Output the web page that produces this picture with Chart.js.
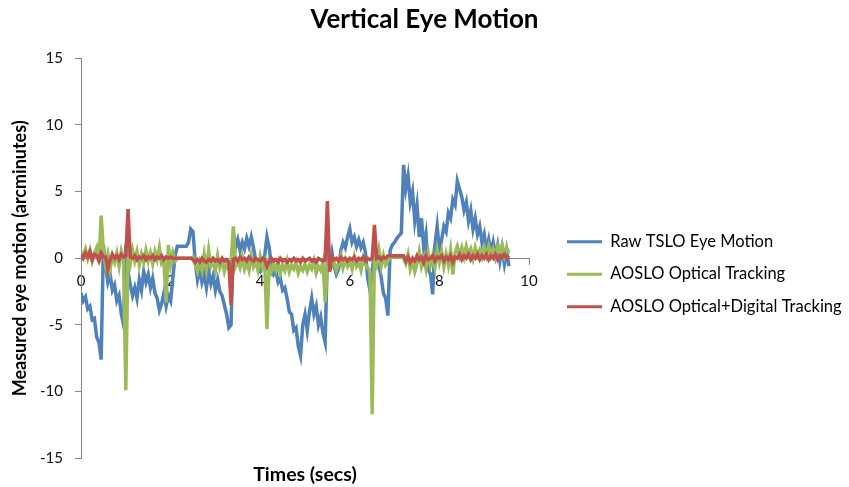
<!DOCTYPE html>
<html>
<head>
<meta charset="utf-8">
<title>Vertical Eye Motion</title>
<script src="https://cdn.jsdelivr.net/npm/chart.js@4.4.1/dist/chart.umd.min.js"></script>
<style>
  html, body { margin: 0; padding: 0; background: #fff; }
  #wrap { width: 849px; height: 487px; }
</style>
</head>
<body>
<div id="wrap"><canvas id="eyeChart"></canvas></div>
<script>
// sample times (secs)
const times = [
  0, 0.05, 0.1, 0.15, 0.2, 0.25, 0.3, 0.35, 0.4, 0.45, 0.5, 0.55, 0.6, 0.65, 0.7, 0.75, 0.8, 0.85, 0.9, 0.95,
  1, 1.05, 1.1, 1.15, 1.2, 1.25, 1.3, 1.35, 1.4, 1.45, 1.5, 1.55, 1.6, 1.65, 1.7, 1.75, 1.8, 1.85, 1.9, 1.95,
  2, 2.05, 2.1, 2.15, 2.2, 2.25, 2.3, 2.35, 2.4, 2.45, 2.5, 2.55, 2.6, 2.65, 2.7, 2.75, 2.8, 2.85, 2.9, 2.95,
  3, 3.05, 3.1, 3.15, 3.2, 3.25, 3.3, 3.35, 3.4, 3.45, 3.5, 3.55, 3.6, 3.65, 3.7, 3.75, 3.8, 3.85, 3.9, 3.95,
  4, 4.05, 4.1, 4.15, 4.2, 4.25, 4.3, 4.35, 4.4, 4.45, 4.5, 4.55, 4.6, 4.65, 4.7, 4.75, 4.8, 4.85, 4.9, 4.95,
  5, 5.05, 5.1, 5.15, 5.2, 5.25, 5.3, 5.35, 5.4, 5.45, 5.5, 5.55, 5.6, 5.65, 5.7, 5.75, 5.8, 5.85, 5.9, 5.95,
  6, 6.05, 6.1, 6.15, 6.2, 6.25, 6.3, 6.35, 6.4, 6.45, 6.5, 6.55, 6.6, 6.65, 6.7, 6.75, 6.8, 6.85, 6.9, 6.95,
  7, 7.05, 7.1, 7.15, 7.2, 7.25, 7.3, 7.35, 7.4, 7.45, 7.5, 7.55, 7.6, 7.65, 7.7, 7.75, 7.8, 7.85, 7.9, 7.95,
  8, 8.05, 8.1, 8.15, 8.2, 8.25, 8.3, 8.35, 8.4, 8.45, 8.5, 8.55, 8.6, 8.65, 8.7, 8.75, 8.8, 8.85, 8.9, 8.95,
  9, 9.05, 9.1, 9.15, 9.2, 9.25, 9.3, 9.35, 9.4, 9.45, 9.5, 9.55
];

// arcminutes
const rawTslo = [
  -2.6, -3.2, -2.9, -3.8, -3.6, -4.6, -4.5, -5.9, -6.3, -7.6, 1.0, -0.6, -1.8, -1.2, -2.4, -2.0, -3.2, -2.8, -4.2, -5.0,
  1.0, -1.0, -2.0, -2.8, -2.2, -3.0, -1.6, -2.4, -1.0, -1.8, -1.2, -2.2, -1.5, -2.6, -3.0, -3.9, -3.4, -2.6, -3.6, -2.8,
  -3.2, -1.5, 0.2, 0.9, 0.9, 0.9, 0.9, 0.9, 1.2, 2.2, 2.0, -0.3, -1.6, -0.8, -1.8, -1.2, -2.2, -1.0, -1.9, -1.3,
  -2.4, -1.6, -2.5, -2.8, -3.5, -4.2, -5.2, -5.0, 2.0, 0.8, 1.4, 0.6, 1.2, 0.7, 1.5, 0.9, 1.6, 0.8, -0.2, -0.8,
  -1.0, -0.6, 0.2, 1.6, 0.8, -0.6, -1.2, -0.9, -1.8, -1.5, -2.4, -2.2, -3.0, -4.0, -4.2, -5.4, -5.2, -6.6, -7.3, -5.0,
  -4.2, -5.4, -4.0, -3.0, -4.2, -3.6, -5.0, -4.4, -5.6, -6.3, 0.3, -0.3, 0.5, -0.6, -1.2, -0.8, 0.6, 1.2, 0.8, 1.6,
  2.2, 1.2, 1.6, 0.9, 1.4, 0.8, 1.2, 0.4, -1.5, -2.4, -1.0, 0.6, 0.2, -0.6, -1.4, -2.6, -3.0, -4.3, 0.6, 1.0,
  1.2, 1.5, 1.7, 1.9, 7.0, 5.2, 6.2, 4.2, 5.0, 2.8, 4.0, 1.6, 3.0, 0.8, 1.8, -0.8, -1.2, -2.7, 1.0, 2.4,
  0.6, 1.4, 2.4, 2.0, 3.4, 3.0, 4.4, 4.0, 5.8, 5.2, 4.6, 3.6, 4.2, 2.8, 3.6, 2.2, 3.0, 1.8, 2.4, 1.2,
  1.8, 0.6, 1.4, 0.4, 1.2, 0.2, 1.0, -0.2, 0.8, -0.4, 0.6, -0.6
];

const opticalOnly = [
  0.5, 0.2, 0.7, 0.0, 0.6, -0.2, 0.4, 0.8, -0.3, 3.2, 0.6, -0.5, 0.3, -0.8, 0.2, -0.3, 0.4, -0.6, 0.5, -0.2,
  -9.9, 0.3, -0.4, 0.6, -0.2, 0.5, -0.5, 0.3, -0.3, 0.6, -0.2, 0.4, -0.4, 0.5, -0.1, 0.8, -0.4, -0.2, -3.3, 1.0,
  -0.5, 0.4, -0.2, 0.0, 0.0, 0.0, 0.0, 0.0, 0.0, 0.0, 0.1, -0.5, -1.0, -0.3, -0.9, 0.3, -0.8, 0.6, -0.6, -0.2,
  -0.9, 0.2, -0.7, -0.2, -1.0, -0.4, -0.8, -0.3, 2.4, -0.6, -0.2, -0.7, 0.1, -0.8, -0.3, -0.9, 0.2, -0.6, -0.2, -0.9,
  0.1, -0.7, -0.3, -5.3, -0.5, -1.0, -0.4, -0.9, -0.3, -1.1, -0.5, -0.9, -0.2, -1.0, -0.5, -0.8, -0.3, -1.1, -0.6, -0.9,
  -0.4, -1.0, -0.5, -0.8, -0.2, -1.1, -0.6, -0.9, -0.3, -3.3, -0.5, 0.2, -0.6, -0.3, -0.9, -0.4, 0.2, -0.7, -0.1, -0.6,
  -0.2, -0.8, 0.1, -0.6, -0.3, -0.9, 0.0, -0.5, -0.7, -1.0, -11.7, 0.3, -0.4, 0.6, -0.6, 0.2, -0.5, -0.2, 0.1, 0.1,
  0.1, 0.1, 0.1, 0.1, 0.0, -0.4, 0.3, -0.8, -0.2, -1.0, -0.4, 0.5, -0.6, 0.0, -0.8, 0.4, -0.5, 0.2, -0.7, 0.6,
  -0.3, 0.5, -0.6, 0.3, -0.5, 0.6, -1.2, 0.4, 0.9, 0.2, 0.8, 0.1, 0.9, 0.3, 0.7, 0.0, 0.8, 0.2, 0.6, 0.1,
  0.8, 0.2, 0.9, 0.3, 0.7, 0.1, 0.9, 0.4, 1.0, 0.2, 0.8, 0.4
];

const opticalDigital = [
  0.3, 0.0, 0.4, 0.1, 0.5, -0.1, 0.3, 0.2, -0.2, 0.4, 0.1, 0.1, -0.8, -0.1, 0.3, 0.0, 0.2, -0.1, 0.3, 0.1,
  0.2, 3.7, 0.1, 0.0, 0.2, -0.1, 0.1, 0.0, 0.2, -0.1, 0.1, 0.0, 0.2, -0.1, 0.1, 0.0, 0.2, -0.1, 0.1, 0.0,
  0.1, 0.0, 0.0, 0.0, 0.0, 0.0, 0.0, 0.0, 0.0, 0.0, -0.1, -0.3, -0.1, -0.3, 0.0, -0.2, -0.3, -0.1, -0.2, 0.0,
  -0.2, -0.1, -0.3, 0.0, -0.2, -0.1, -0.3, -3.5, -0.1, 0.0, -0.2, 0.1, -0.1, 0.0, -0.2, 0.1, -0.1, -0.2, 0.0, -0.1,
  -0.2, 0.0, -0.1, -0.6, -0.2, 0.0, -0.2, -0.1, -0.3, 0.0, -0.2, -0.1, -0.3, -0.1, -0.2, 0.0, -0.2, -0.1, -0.3, 0.0,
  -0.2, -0.1, 0.0, -0.2, -0.1, -0.3, 0.0, -0.1, -0.2, -0.1, 4.3, -1.0, 0.1, -0.1, 0.0, -0.2, 0.1, -0.1, 0.0, -0.2,
  0.0, -0.1, 0.1, -0.2, 0.0, -0.1, 0.1, -0.2, 0.0, -0.1, 0.0, 2.5, 0.0, 0.1, -0.1, 0.1, 0.0, 0.2, 0.2, 0.2,
  0.2, 0.2, 0.2, 0.2, 0.2, -0.2, 0.1, -0.3, 0.0, -0.2, 0.2, -0.1, 0.1, -0.3, 0.2, -0.1, 0.0, 0.2, -0.2, 0.1,
  0.0, 0.2, -0.2, 0.1, -0.1, 0.2, -0.3, 0.1, 0.0, 0.3, -0.1, 0.2, 0.0, 0.3, -0.1, 0.2, 0.0, 0.3, -0.1, 0.2,
  0.0, 0.3, -0.1, 0.2, 0.0, 0.3, -0.1, 0.2, 0.1, 0.3, 0.0, 0.2
];

const seriesNames = ['Raw TSLO Eye Motion', 'AOSLO Optical Tracking', 'AOSLO Optical+Digital Tracking'];
const seriesColors = ['#4f81bd', '#9bbb59', '#c0504d'];
const axisGrey = '#868686';

// legend gets a fixed column right of the plot and is moved to where Excel put it
const LEGEND_SLOT = 320;
const legendSlot = {
  id: 'legendSlot',
  beforeLayout(chart) {
    const lg = chart.legend;
    if (!lg || lg._slotFit) return;
    const fit = lg.fit;
    lg.fit = function () { fit.call(this); this.width = LEGEND_SLOT; };
    lg._slotFit = true;
  },
  afterLayout(chart) {
    const lg = chart.legend;
    if (!lg) return;
    const w = lg.width, h = lg.height;
    lg.left = 551; lg.right = lg.left + w;
    lg.top = 217.4; lg.bottom = lg.top + h;
  }
};

Chart.defaults.font.family = 'Lato, "Open Sans", sans-serif';
Chart.defaults.color = '#000';

function line(label, data, color, order) {
  return {
    label,
    data,
    borderColor: color,
    backgroundColor: color,
    borderWidth: 3.5,
    pointRadius: 0,
    pointHoverRadius: 0,
    pointStyle: 'line',
    pointBorderWidth: 3,
    tension: 0,
    order
  };
}

new Chart(document.getElementById('eyeChart'), {
  type: 'line',
  data: {
    labels: times,
    datasets: [
      line(seriesNames[0], rawTslo, seriesColors[0], 3),
      line(seriesNames[1], opticalOnly, seriesColors[1], 2),
      line(seriesNames[2], opticalDigital, seriesColors[2], 1)
    ]
  },
  plugins: [legendSlot],
  options: {
    responsive: true,
    maintainAspectRatio: false,
    animation: false,
    layout: { padding: 0 },
    scales: {
      x: {
        type: 'linear',
        position: { y: 0 },
        min: 0,
        max: 10,
        ticks: { stepSize: 2, padding: 8, font: { size: 15 }, color: '#111' },
        grid: { drawOnChartArea: false, drawTicks: true, tickLength: 6, color: axisGrey },
        border: { color: axisGrey }
      },
      y: {
        min: -15,
        max: 15,
        ticks: { stepSize: 5, padding: 12, font: { size: 15 }, color: '#111' },
        grid: { drawOnChartArea: false, drawTicks: true, tickLength: 6, color: axisGrey },
        border: { color: axisGrey },
        title: {
          display: true,
          text: 'Measured eye motion (arcminutes)',
          font: { size: 18, weight: 'bold' },
          padding: { top: 9.2, bottom: 0 }
        },
        afterFit(scale) { scale.width = 81; }
      }
    },
    plugins: {
      title: {
        display: true,
        text: 'Vertical Eye Motion',
        font: { size: 26, weight: 'bold' },
        padding: { top: 4.4, bottom: 22.7 }
      },
      subtitle: {
        display: true,
        text: 'Times (secs)',
        position: 'bottom',
        fullSize: false,
        font: { size: 19.5, weight: 'bold' },
        color: '#000',
        padding: { top: 5, bottom: 0.3 }
      },
      legend: {
        position: 'right',
        align: 'start',
        labels: {
          usePointStyle: true,
          pointStyleWidth: 35,
          padding: 16,
          font: { size: 16.5 },
          color: '#000',
          sort: (a, b) => a.datasetIndex - b.datasetIndex
        }
      },
      tooltip: { enabled: false }
    }
  }
});
</script>
</body>
</html>
